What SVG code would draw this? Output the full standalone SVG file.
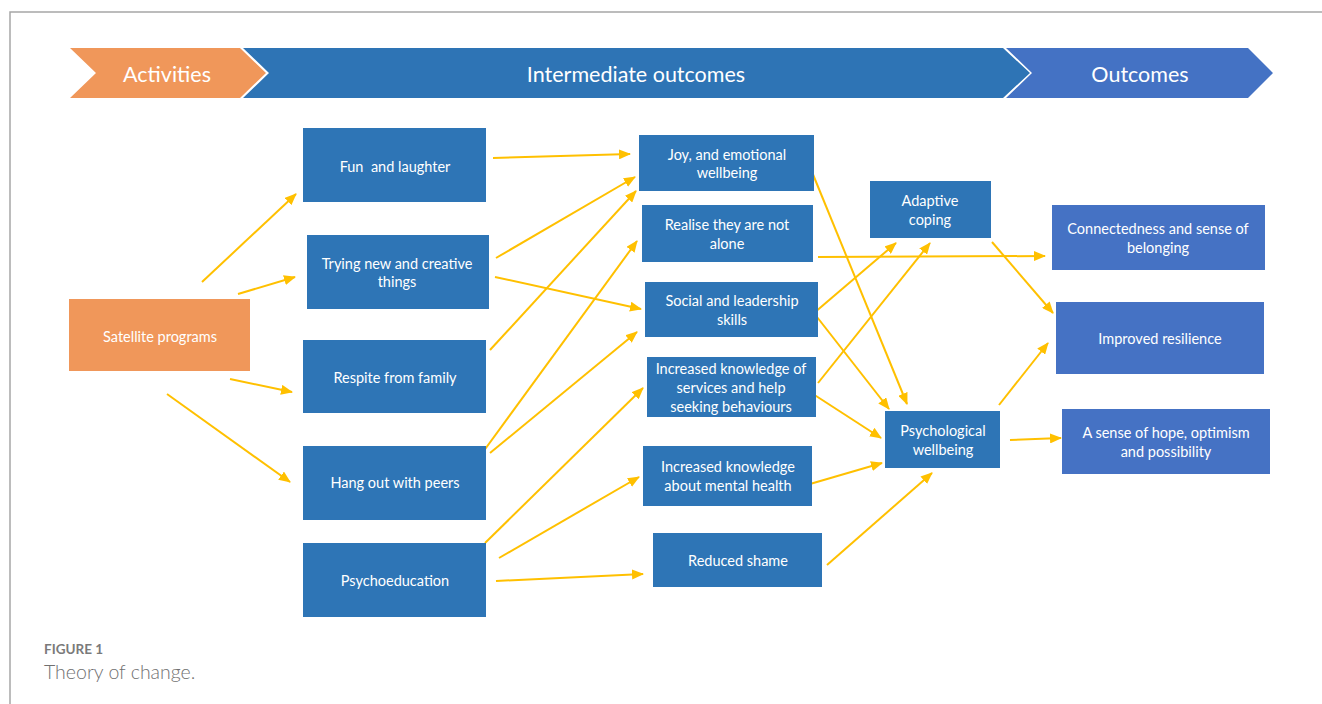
<svg xmlns="http://www.w3.org/2000/svg" width="1322" height="704" viewBox="0 0 1322 704">
<defs>
<style>
.frame{fill:none;stroke:#a6a6a6;stroke-width:1.5}
.hdr{font-family:Lato,"Open Sans",sans-serif;font-size:21.5px;fill:#fff;text-anchor:middle}
.box{fill:#2E75B6;filter:url(#soft)}
.obox{fill:#4472C4;filter:url(#soft)}
.abox{fill:#F0975A;filter:url(#soft)}
.t{font-family:Lato,"Open Sans",sans-serif;font-size:14.5px;fill:#fff;text-anchor:middle;white-space:pre}
.c{fill:none;stroke:#FFC000;stroke-width:2;marker-end:url(#ah)}
.cap1{font-family:Lato,"Open Sans",sans-serif;font-size:13.5px;font-weight:bold;fill:#7a7a7a}
.cap2{font-family:Lato,"Open Sans",sans-serif;font-size:19.5px;font-weight:300;fill:#707070}
</style>
<filter id="soft" x="-5%" y="-5%" width="110%" height="110%"><feGaussianBlur stdDeviation="0.7"/></filter>
<marker id="ah" markerUnits="userSpaceOnUse" markerWidth="12" markerHeight="10" refX="11" refY="5" orient="auto"><path d="M0,0 L12,5 L0,10 Z" fill="#FFC000"/></marker>
</defs>
<path class="frame" d="M10,704 L10,12 L1322,12"/>
<g id="header">
<path d="M70,48 L240,48 L266,73 L240,98 L70,98 L96,73 Z" fill="#F0975A"/>
<path d="M243,48 L1003,48 L1030,73 L1003,98 L243,98 L269,73 Z" fill="#2E74B5"/>
<path d="M1006,48 L1248,48 L1273,73 L1248,98 L1006,98 L1032,73 Z" fill="#4472C4"/>
<text class="hdr" x="167" y="82">Activities</text>
<text class="hdr" x="636" y="82">Intermediate outcomes</text>
<text class="hdr" x="1140" y="82">Outcomes</text>
</g>
<g id="connectors">
<path class="c" d="M202,282 L296,194"/>
<path class="c" d="M238,294 L295,277"/>
<path class="c" d="M230,379 L292,392"/>
<path class="c" d="M167,394 L290,482"/>
<path class="c" d="M493,158 L630,154"/>
<path class="c" d="M496,258 L635,177"/>
<path class="c" d="M495,277 L641,309"/>
<path class="c" d="M490,350 L636,191"/>
<path class="c" d="M483,452 L637,241"/>
<path class="c" d="M490,453 L637,332"/>
<path class="c" d="M485,543 L643,388"/>
<path class="c" d="M499,558 L639,477"/>
<path class="c" d="M496,581 L643,574"/>
<path class="c" d="M812,172 L907,404"/>
<path class="c" d="M818,257 L1045,256"/>
<path class="c" d="M814,313 L896,243"/>
<path class="c" d="M818,383 L930,243"/>
<path class="c" d="M817,317 L889,409"/>
<path class="c" d="M813,394 L881,438"/>
<path class="c" d="M810,484 L882,463"/>
<path class="c" d="M827,565 L932,473"/>
<path class="c" d="M992,242 L1053,313"/>
<path class="c" d="M999,405 L1048,343"/>
<path class="c" d="M1010,440 L1061,438"/>
</g>
<g id="satellite"><rect class="abox" x="69" y="299" width="181" height="72"/><text class="t" x="160" y="342">Satellite programs</text></g>
<g id="fun"><rect class="box" x="303" y="128" width="183" height="74"/><text class="t" x="395" y="172">Fun  and laughter</text></g>
<g id="trying"><rect class="box" x="307" y="235" width="182" height="74"/><text class="t" x="397" y="269">Trying new and creative</text><text class="t" x="397" y="287">things</text></g>
<g id="respite"><rect class="box" x="303" y="340" width="183" height="73"/><text class="t" x="395" y="383">Respite from family</text></g>
<g id="hangout"><rect class="box" x="303" y="446" width="183" height="74"/><text class="t" x="395" y="488">Hang out with peers</text></g>
<g id="psychoeducation"><rect class="box" x="303" y="543" width="183" height="74"/><text class="t" x="395" y="586">Psychoeducation</text></g>
<g id="joy"><rect class="box" x="639" y="135" width="175" height="56"/><text class="t" x="727" y="160">Joy, and emotional</text><text class="t" x="727" y="178">wellbeing</text></g>
<g id="realise"><rect class="box" x="642" y="205" width="171" height="57"/><text class="t" x="727" y="230">Realise they are not</text><text class="t" x="727" y="249">alone</text></g>
<g id="social"><rect class="box" x="645" y="282" width="173" height="55"/><text class="t" x="732" y="306">Social and leadership</text><text class="t" x="732" y="325">skills</text></g>
<g id="services"><rect class="box" x="647" y="357" width="169" height="60"/><text class="t" x="731" y="374">Increased knowledge of</text><text class="t" x="731" y="393">services and help</text><text class="t" x="731" y="412">seeking behaviours</text></g>
<g id="mentalhealth"><rect class="box" x="643" y="446" width="169" height="60"/><text class="t" x="728" y="472">Increased knowledge</text><text class="t" x="728" y="491">about mental health</text></g>
<g id="shame"><rect class="box" x="653" y="533" width="169" height="54"/><text class="t" x="738" y="566">Reduced shame</text></g>
<g id="adaptive"><rect class="box" x="870" y="181" width="121" height="57"/><text class="t" x="930" y="206">Adaptive</text><text class="t" x="930" y="225">coping</text></g>
<g id="psychological"><rect class="box" x="885" y="411" width="115" height="57"/><text class="t" x="943" y="436">Psychological</text><text class="t" x="943" y="455">wellbeing</text></g>
<g id="connectedness"><rect class="obox" x="1052" y="205" width="213" height="65"/><text class="t" x="1158" y="234">Connectedness and sense of</text><text class="t" x="1158" y="253">belonging</text></g>
<g id="resilience"><rect class="obox" x="1056" y="302" width="208" height="72"/><text class="t" x="1160" y="344">Improved resilience</text></g>
<g id="hope"><rect class="obox" x="1062" y="409" width="208" height="65"/><text class="t" x="1166" y="438">A sense of hope, optimism</text><text class="t" x="1166" y="457">and possibility</text></g>
<g id="caption">
<text class="cap1" x="44" y="654">FIGURE 1</text>
<text class="cap2" x="44" y="679">Theory of change.</text>
</g>
</svg>
